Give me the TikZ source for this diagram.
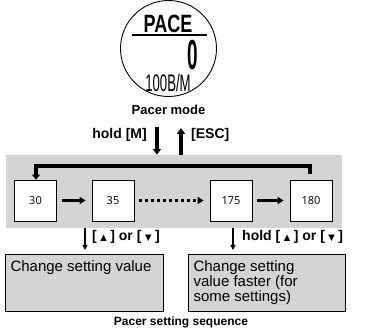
\documentclass[tikz,border=0pt]{standalone}
\usepackage{fontspec}
\setmainfont{Liberation Sans}
\newfontfamily\valfont{Open Sans}
\newfontfamily\symfont{DejaVu Sans}
\usepackage{graphicx}
\usetikzlibrary{arrows.meta}
\definecolor{panelgrey}{gray}{0.83}
\newcommand*{\keyup}{[\hspace{3.5pt}\raisebox{0.5pt}{\symfont\fontsize{8.5}{8.5}\selectfont ▲}\hspace{3.5pt}]}
\newcommand*{\keydown}{[\hspace{3.5pt}\raisebox{0.5pt}{\symfont\fontsize{8.5}{8.5}\selectfont ▼}\hspace{3.5pt}]}
\newcommand*{\lcd}[3]{\scalebox{#1}[1]{\fontsize{#2}{#2}\selectfont #3}}

\begin{document}
\begin{tikzpicture}[
    valbox/.style={draw, line width=0.8pt, fill=white, minimum width=42pt,
      minimum height=41pt, inner sep=0pt, font=\valfont\fontsize{11}{11}\selectfont},
    notebox/.style={draw, line width=1pt, fill=panelgrey, inner xsep=5pt,
      inner ysep=6pt, anchor=north west, font=\fontsize{15}{12}\selectfont},
    keylabel/.style={inner sep=0pt, font=\bfseries\fontsize{14}{14}\selectfont},
    caption/.style={inner sep=0pt, font=\bfseries\fontsize{13}{13}\selectfont},
    bigarrow/.style={line width=3.5pt, -{Triangle[length=6pt, width=8pt]}},
    steparrow/.style={line width=3pt, -{Triangle[length=6pt, width=7pt]},
      shorten <=5pt, shorten >=6pt},
    smallarrow/.style={line width=2.5pt, -{Triangle[length=5pt, width=5pt]}}
  ]
      \useasboundingbox (0,0) rectangle (365pt,330pt);

      % watch face
      \node[circle, draw, line width=0.9pt, minimum size=96pt, inner sep=0pt]
        (dial) at (168.5pt, 281.5pt) {};
      \node[inner sep=0pt] (pace) at (168pt, 306pt) {\lcd{0.72}{25}{\bfseries PACE}};
      \draw[line width=2pt] (132pt, 295pt) -- (207pt, 295pt);
      \node[inner sep=0pt] (digit) at (192.5pt, 275pt) {\lcd{0.45}{42}{\bfseries 0}};
      \node[inner sep=0pt] (rate) at (168pt, 247pt) {\lcd{0.55}{24}{100B/M}};
      \node[caption] (mode) at (168.5pt, 220pt) {Pacer mode};

      % setting sequence
      \node[fill=panelgrey, minimum width=336pt, minimum height=73pt, inner sep=0pt]
        (band) at (174pt, 138.5pt) {};

      \foreach \val/\x in {30/35.5, 35/113, 175/231, 180/311}
      {
        \node[valbox] (b\val) at (\x pt, 129.5pt) {\val};
      }

      \draw[steparrow] (b30) -- (b35);
      \draw[steparrow, dash pattern=on 3pt off 3pt] (b35) -- (b175);
      \draw[steparrow] (b175) -- (b180);
      \draw[line width=4pt, -{Triangle[length=5pt, width=8pt]}]
        ([xshift=-1pt, yshift=6pt]b180.north) -- ++(0, 8pt) -| ([xshift=0.5pt]b30.north);

      % enter and leave
      \coordinate (enter) at (157pt, 203pt);
      \coordinate (leave) at (181pt, 202pt);
      \draw[bigarrow] (enter) -- (enter |- band.north);
      \draw[bigarrow] (leave |- band.north) -- (leave);
      \node[keylabel, anchor=east] (holdm) at (147pt, 195pt) {hold [M]};
      \node[keylabel, anchor=west] (esc) at (191pt, 195pt) {[ESC]};

      % notes
      \node[notebox] (slow) at (5pt, 76pt)
        {\parbox[c][45pt][t]{148pt}{Change setting value}};
      \node[notebox] (fast) at (188pt, 76pt)
        {\parbox[c][45pt][t]{147pt}{Change setting\\value faster (for\\some settings)}};

      \coordinate (slowtop) at (85pt, 80pt);
      \coordinate (fasttop) at (233pt, 80pt);
      \draw[smallarrow] (slowtop |- band.south) -- (slowtop);
      \draw[smallarrow] (fasttop |- band.south) -- (fasttop);
      \node[keylabel, anchor=west] (press) at (92pt, 93pt) {\keyup{} or \keydown};
      \node[keylabel, anchor=west] (hold) at (242pt, 93pt) {hold \keyup{} or \keydown};

      \node[caption, font=\bfseries\fontsize{12}{12}\selectfont] (seq) at (181pt, 8pt)
        {Pacer setting sequence};
    \end{tikzpicture}
\end{document}
